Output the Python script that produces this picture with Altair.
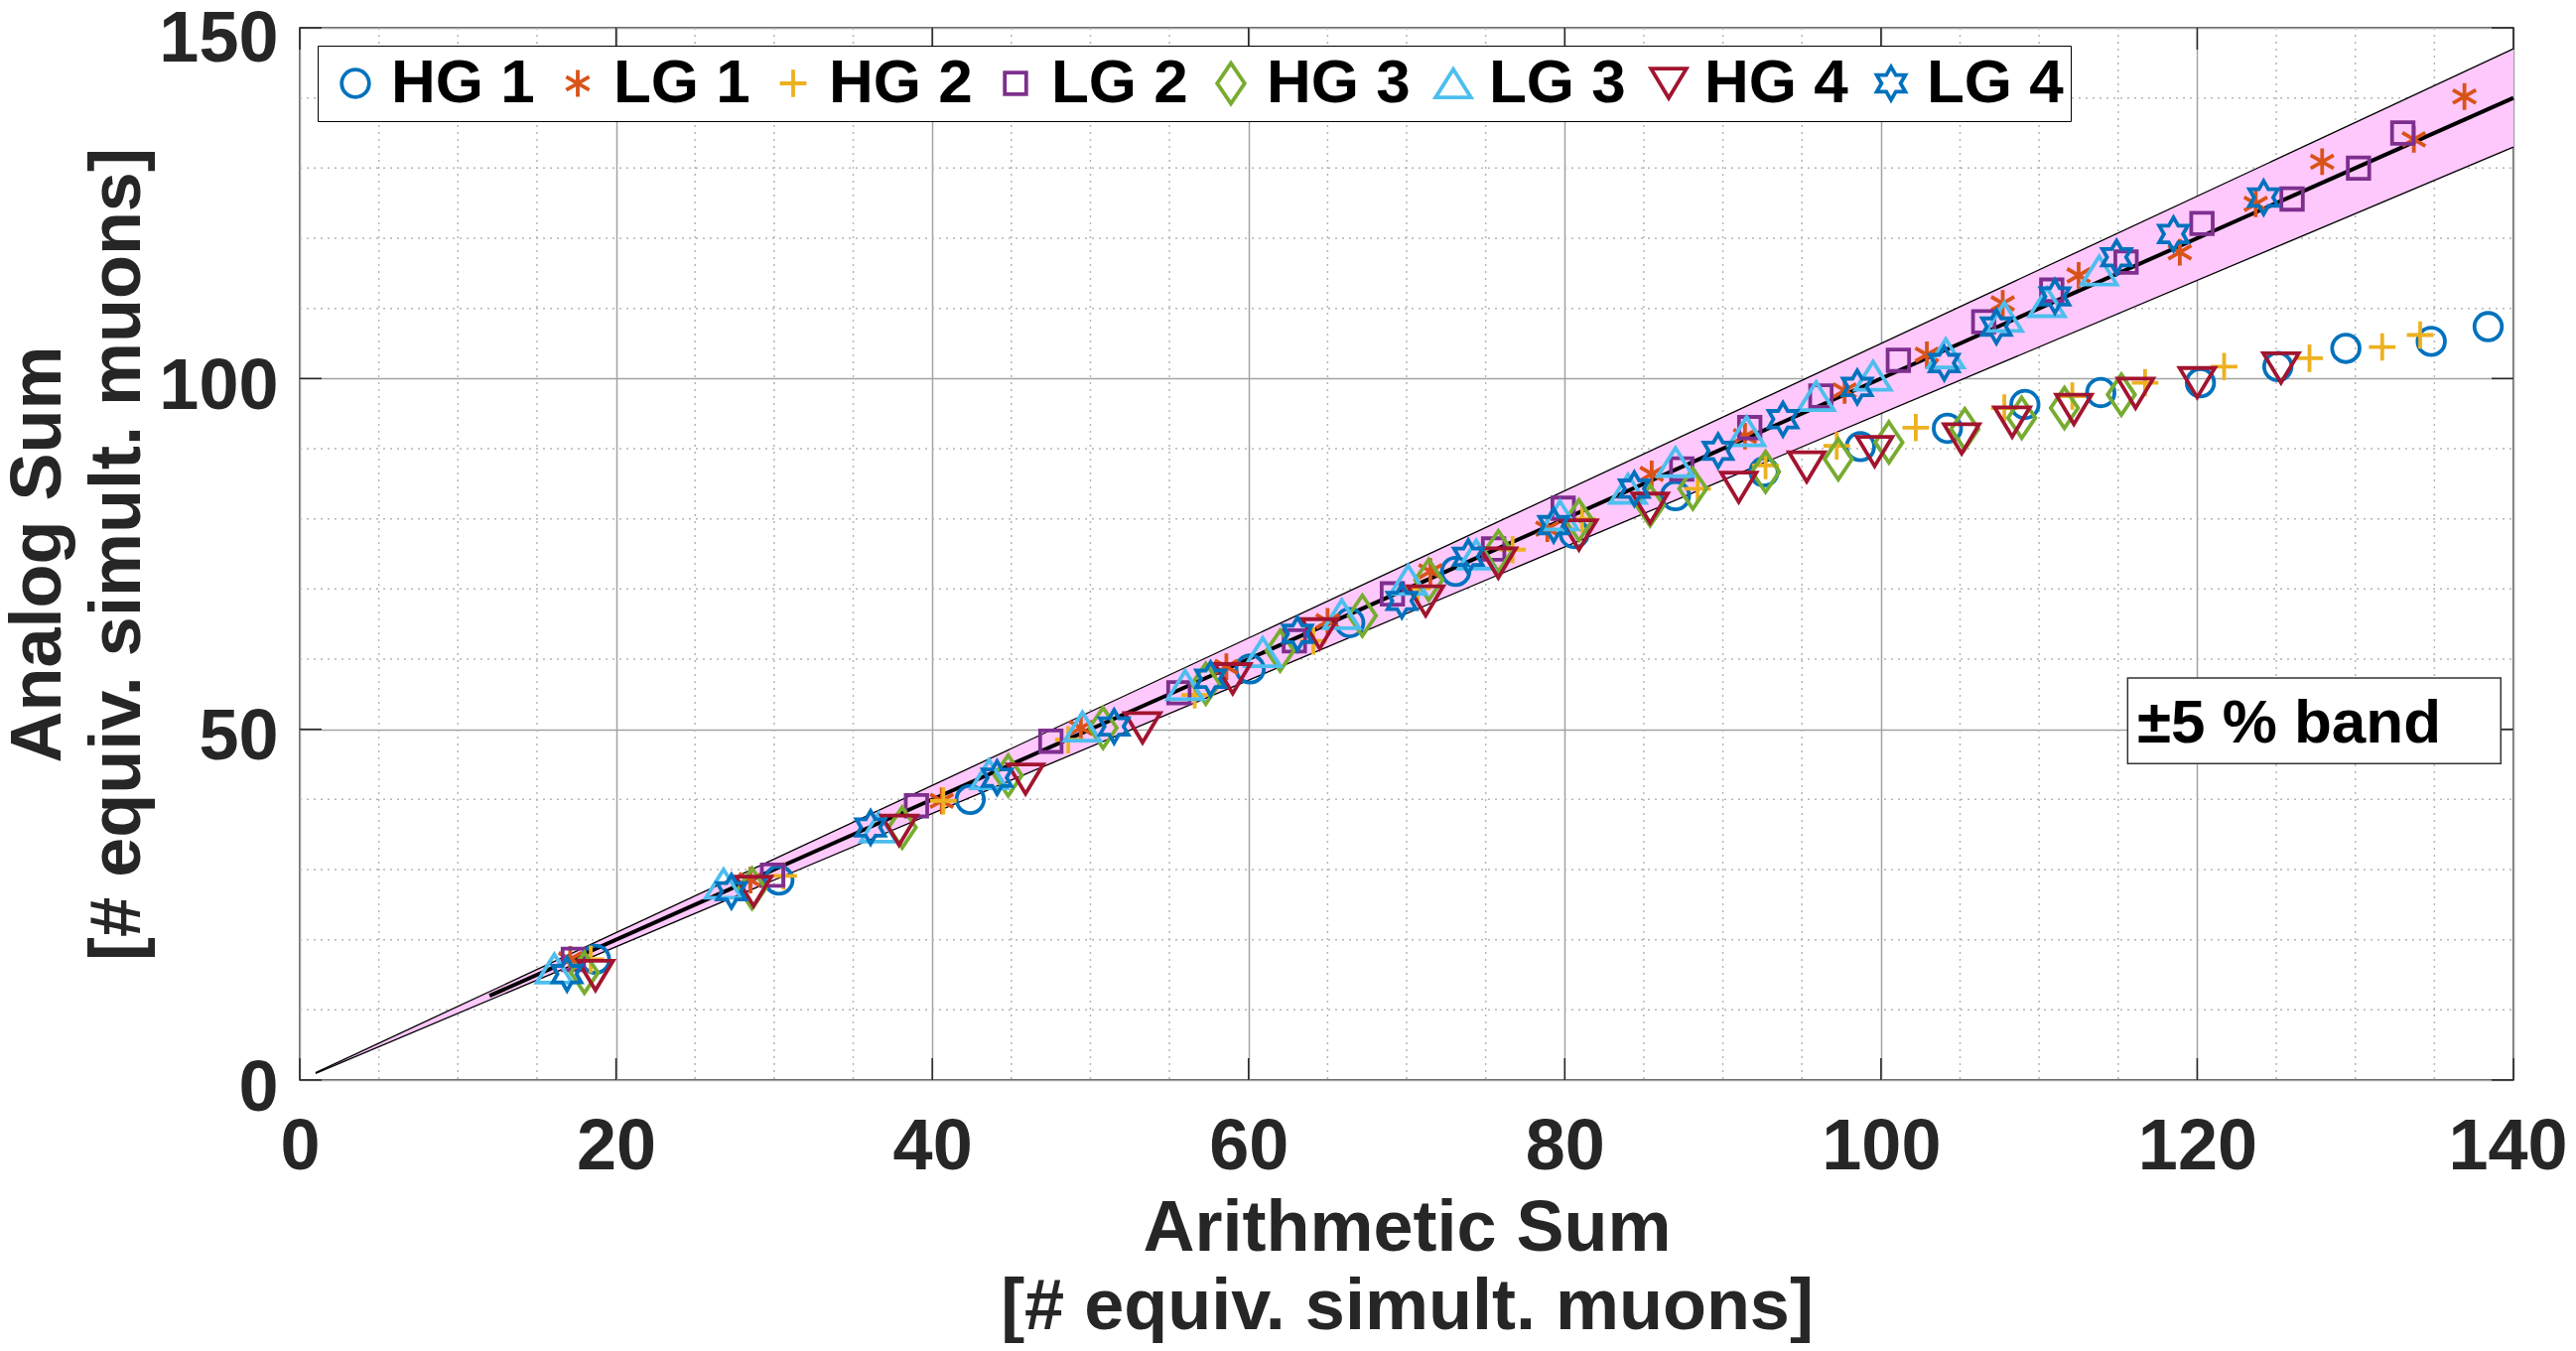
import altair as alt
import pandas as pd

# ---------------- data ----------------
SERIES = ["HG 1", "LG 1", "HG 2", "LG 2", "HG 3", "LG 3", "HG 4", "LG 4"]
COLORS = ["#0072BD", "#D95319", "#EDB120", "#7E2F8E", "#77AC30", "#4DBEEE", "#A2142F", "#0072BD"]

hg1_x = [18.7, 30.3, 42.4, 60.1, 66.4, 73.1, 80.6, 87.0, 92.6, 98.7, 104.2, 109.1, 113.9, 120.2, 125.1, 129.4, 134.8, 138.4]
hg1_y = [17.2, 28.5, 40.0, 58.6, 65.2, 72.5, 77.9, 83.3, 86.7, 90.3, 92.9, 96.3, 98.0, 99.4, 101.7, 104.3, 105.3, 107.4]

lg1_x = [17.1, 28.5, 40.6, 49.4, 58.6, 65.0, 71.5, 78.9, 85.5, 91.4, 97.7, 102.9, 107.7, 112.5, 118.9, 123.7, 127.9, 133.7, 136.9]
lg1_y = [17.2, 28.5, 39.8, 50.2, 58.9, 65.4, 72.5, 78.6, 86.4, 91.8, 98.3, 103.4, 110.7, 114.7, 118.0, 124.9, 130.9, 134.1, 140.2]

hg2_x = [18.4, 30.6, 40.7, 48.6, 56.6, 64.1, 70.7, 76.7, 81.1, 88.4, 92.7, 97.2, 102.2, 107.8, 112.1, 116.7, 121.7, 127.1, 131.7, 134.1]
hg2_y = [17.2, 29.1, 39.8, 48.5, 54.9, 62.6, 70.1, 75.6, 80.0, 84.3, 87.6, 90.4, 93.0, 95.8, 97.5, 99.4, 101.7, 102.9, 104.5, 106.2]

lg2_x = [17.3, 29.9, 39.0, 47.5, 55.6, 62.9, 69.1, 75.5, 79.9, 87.4, 91.7, 96.2, 101.1, 106.5, 110.8, 115.5, 120.3, 126.0, 130.2, 133.0]
lg2_y = [17.2, 29.2, 39.1, 48.3, 55.2, 62.6, 69.3, 75.7, 81.5, 87.1, 93.0, 97.5, 102.6, 108.1, 112.6, 116.6, 122.1, 125.6, 130.0, 135.0]

hg3_x = [18.0, 28.6, 38.1, 44.8, 50.8, 57.3, 62.0, 67.2, 71.4, 75.8, 80.9, 85.4, 88.1, 92.7, 97.3, 100.5, 105.3, 108.9, 111.6, 115.2]
hg3_y = [15.3, 27.3, 36.0, 43.4, 50.2, 56.5, 61.2, 66.2, 71.3, 75.4, 79.8, 81.9, 84.3, 86.7, 88.5, 90.9, 92.8, 94.4, 95.8, 97.7]

lg3_x = [16.1, 26.8, 36.6, 43.6, 49.5, 56.0, 60.9, 65.9, 70.1, 74.4, 79.7, 84.0, 87.0, 91.5, 95.9, 99.5, 104.1, 107.8, 110.5, 113.8]
lg3_y = [15.9, 28.0, 36.0, 43.6, 50.4, 56.3, 61.0, 66.4, 71.3, 74.9, 80.5, 84.3, 88.1, 92.5, 97.5, 100.4, 103.6, 108.8, 110.9, 115.4]

hg4_x = [18.7, 28.7, 37.9, 45.9, 53.3, 59.0, 64.5, 71.2, 75.8, 80.9, 85.4, 91.0, 95.3, 99.6, 105.1, 108.3, 112.2, 116.1, 120.0, 125.3]
hg4_y = [14.9, 26.9, 35.6, 42.9, 50.2, 57.2, 63.6, 68.3, 73.7, 77.7, 81.5, 84.5, 87.4, 89.6, 91.4, 93.8, 95.6, 97.9, 99.4, 101.5]

lg4_x = [16.9, 27.3, 36.1, 44.1, 51.5, 57.6, 63.1, 69.7, 73.9, 79.3, 84.4, 89.7, 93.8, 98.5, 104.0, 107.3, 111.0, 114.9, 118.5, 124.2]
lg4_y = [15.1, 26.9, 36.0, 43.1, 50.4, 57.2, 63.6, 68.3, 74.6, 79.1, 84.3, 89.7, 94.2, 98.8, 102.2, 107.4, 111.7, 117.3, 120.6, 125.8]

# +-5 % band around the identity line, and the identity line itself
band_x = [1, 140]
band_lo = [0.95, 133.0]
band_hi = [1.05, 147.0]
ident_x = [12, 140]
ident_y = [12, 140]

# tick / grid values
x_major = [0, 20, 40, 60, 80, 100, 120, 140]
y_major = [0, 50, 100, 150]
x_minor = [5, 10, 15, 25, 30, 35, 45, 50, 55, 65, 70, 75, 85, 90, 95, 105, 110, 115, 125, 130, 135]
y_minor = [10, 20, 30, 40, 60, 70, 80, 90, 110, 120, 130, 140]

# annotation box
box_label = "±5 % band"
box_x1, box_x2, box_y1, box_y2 = 115.6, 139.2, 45.1, 57.3
box_tx, box_ty = 116.2, 48.1

# ---------------- build tables ----------------
xs_all = [hg1_x, lg1_x, hg2_x, lg2_x, hg3_x, lg3_x, hg4_x, lg4_x]
ys_all = [hg1_y, lg1_y, hg2_y, lg2_y, hg3_y, lg3_y, hg4_y, lg4_y]
rows = []
for name, xs, ys in zip(SERIES, xs_all, ys_all):
    for a, b in zip(xs, ys):
        rows.append({"series": name, "x": a, "y": b})
pts = pd.DataFrame(rows)

band = pd.DataFrame({"x": band_x, "lo": band_lo, "hi": band_hi})
edges = pd.DataFrame({
    "x": band_x + band_x,
    "y": band_lo + band_hi,
    "edge": ["lo", "lo", "hi", "hi"],
})
ident = pd.DataFrame({"x": ident_x, "y": ident_y})
box = pd.DataFrame({"x1": [box_x1], "x2": [box_x2], "y1": [box_y1], "y2": [box_y2],
                    "tx": [box_tx], "ty": [box_ty], "label": [box_label]})

# ---------------- styling ----------------
W, H = 2230, 1060
FONT = "Liberation Sans"
TXT = "#262626"

SHAPES = [
    "M0.69,0A0.69,0.69,0,1,1,-0.69,0A0.69,0.69,0,1,1,0.69,0Z",                      # circle
    "M0,-0.67L0,0.67M-0.58,-0.335L0.58,0.335M-0.58,0.335L0.58,-0.335",               # asterisk
    "M-0.67,0L0.67,0M0,-0.69L0,0.69",                                                # plus
    "M-0.54,-0.54L0.54,-0.54L0.54,0.54L-0.54,0.54Z",                                 # square
    "M0,-1.02L0.69,0L0,1.02L-0.69,0Z",                                               # diamond
    "M0,-0.71L0.89,0.71L-0.89,0.71Z",                                                # triangle up
    "M0,0.74L0.89,-0.74L-0.89,-0.74Z",                                               # triangle down
    "M0,-0.83L0.24,-0.415L0.719,-0.415L0.479,0L0.719,0.415L0.24,0.415L0,0.83L-0.24,0.415L-0.719,0.415L-0.479,0L-0.719,-0.415L-0.24,-0.415Z",  # hexagram
]

xscale = alt.Scale(domain=[0, 140], nice=False, zero=False)
yscale = alt.Scale(domain=[0, 150], nice=False, zero=False)

xaxis = alt.Axis(
    values=x_major, format="d",
    title=["Arithmetic Sum", "[# equiv. simult. muons]"],
    titleFont=FONT, titleFontSize=72, titleFontWeight="bold", titleColor=TXT,
    titleX=W / 2, titleY=171, titleAlign="center", titleBaseline="alphabetic",
    titleLineHeight=79, titleAngle=0,
    labelFont=FONT, labelFontSize=72, labelFontWeight="bold", labelColor=TXT,
    labelPadding=89, labelBaseline="alphabetic", labelFlush=False, labelOverlap=False,
    labelOffset={"condition": {"test": "datum.value === 140", "value": -6}, "value": 0},
    ticks=False, tickSize=0, domain=False,
    grid=True, gridColor="#a3a3a3", gridWidth=1.5,
)
yaxis = alt.Axis(
    values=y_major, format="d",
    title=["Analog Sum", "[# equiv. simult. muons]"],
    titleFont=FONT, titleFontSize=72, titleFontWeight="bold", titleColor=TXT,
    titleX=-242, titleY=H / 2, titleAlign="center", titleBaseline="alphabetic",
    titleLineHeight=80, titleAngle=270,
    labelFont=FONT, labelFontSize=72, labelFontWeight="bold", labelColor=TXT,
    labelPadding=22, labelAlign="right", labelBaseline="alphabetic",
    labelOffset={"condition": {"test": "datum.value === 150", "value": 33}, "value": 30},
    labelFlush=False, labelOverlap=False,
    ticks=False, tickSize=0, domain=False,
    grid=True, gridColor="#a3a3a3", gridWidth=1.5,
)


def X(field):
    return alt.X(field, type="quantitative", scale=xscale, axis=xaxis)


def Y(field):
    return alt.Y(field, type="quantitative", scale=yscale, axis=yaxis)


legend = alt.Legend(
    title=None, orient="top-left", direction="horizontal", columns=8,
    offset=18, padding=7, symbolOffset=0, labelOffset=5, columnPadding=12,
    labelLimit=400, strokeColor="black", fillColor="white",
    symbolSize=1600, symbolStrokeWidth=3.8,
    labelFont=FONT, labelFontSize=62, labelFontWeight="bold", labelColor="black",
)

# minor dotted grid
minor_x = alt.Chart(pd.DataFrame({"v": x_minor})).mark_rule(
    color="#b5b5b5", strokeWidth=1.5, strokeDash=[2, 5]
).encode(x=X("v"), y=alt.value(0), y2=alt.value(H))
minor_y = alt.Chart(pd.DataFrame({"v": y_minor})).mark_rule(
    color="#b5b5b5", strokeWidth=1.5, strokeDash=[2, 5]
).encode(y=Y("v"), x=alt.value(0), x2=alt.value(W))

band_area = alt.Chart(band).mark_area(color="#ffc8fc", opacity=1).encode(
    x=X("x"), y=Y("lo"), y2="hi"
)
band_edges = alt.Chart(edges).mark_line(color="black", strokeWidth=1.3).encode(
    x=X("x"), y=Y("y"), detail="edge"
)
ident_line = alt.Chart(ident).mark_line(color="black", strokeWidth=4).encode(
    x=X("x"), y=Y("y")
)

# inward major ticks on all four sides
TL = 22
tick_style = dict(color=TXT, strokeWidth=1.5)
tx_df = pd.DataFrame({"v": x_major})
ty_df = pd.DataFrame({"v": y_major})
ticks_bottom = alt.Chart(tx_df).mark_rule(**tick_style).encode(x=X("v"), y=alt.value(H), y2=alt.value(H - TL))
ticks_top = alt.Chart(tx_df).mark_rule(**tick_style).encode(x=X("v"), y=alt.value(0), y2=alt.value(TL))
ticks_left = alt.Chart(ty_df).mark_rule(**tick_style).encode(y=Y("v"), x=alt.value(0), x2=alt.value(TL))
ticks_right = alt.Chart(ty_df).mark_rule(**tick_style).encode(y=Y("v"), x=alt.value(W), x2=alt.value(W - TL))

points = alt.Chart(pts).mark_point(filled=False, opacity=1, strokeWidth=3.8, size=1600).encode(
    x=X("x"),
    y=Y("y"),
    color=alt.Color("series:N", scale=alt.Scale(domain=SERIES, range=COLORS), legend=legend),
    shape=alt.Shape("series:N", scale=alt.Scale(domain=SERIES, range=SHAPES), legend=legend),
)

box_rect = alt.Chart(box).mark_rect(fill="white", stroke="#333333", strokeWidth=1.5).encode(
    x=X("x1"), x2="x2", y=Y("y1"), y2="y2"
)
box_text = alt.Chart(box).mark_text(
    align="left", baseline="alphabetic", font=FONT, fontSize=62, fontWeight="bold", color="black"
).encode(x=X("tx"), y=Y("ty"), text="label:N")

chart = alt.layer(
    minor_x, minor_y, band_area, band_edges, ident_line,
    ticks_bottom, ticks_top, ticks_left, ticks_right,
    points, box_rect, box_text,
).properties(
    width=W, height=H,
    autosize=alt.AutoSizeParams(type="none"),
    padding={"left": 294, "top": 20, "right": 55, "bottom": 265},
    background="white",
).configure_view(stroke=TXT, strokeWidth=1.5)

chart.save("out.html", embed_options={"renderer": "svg", "actions": False})
